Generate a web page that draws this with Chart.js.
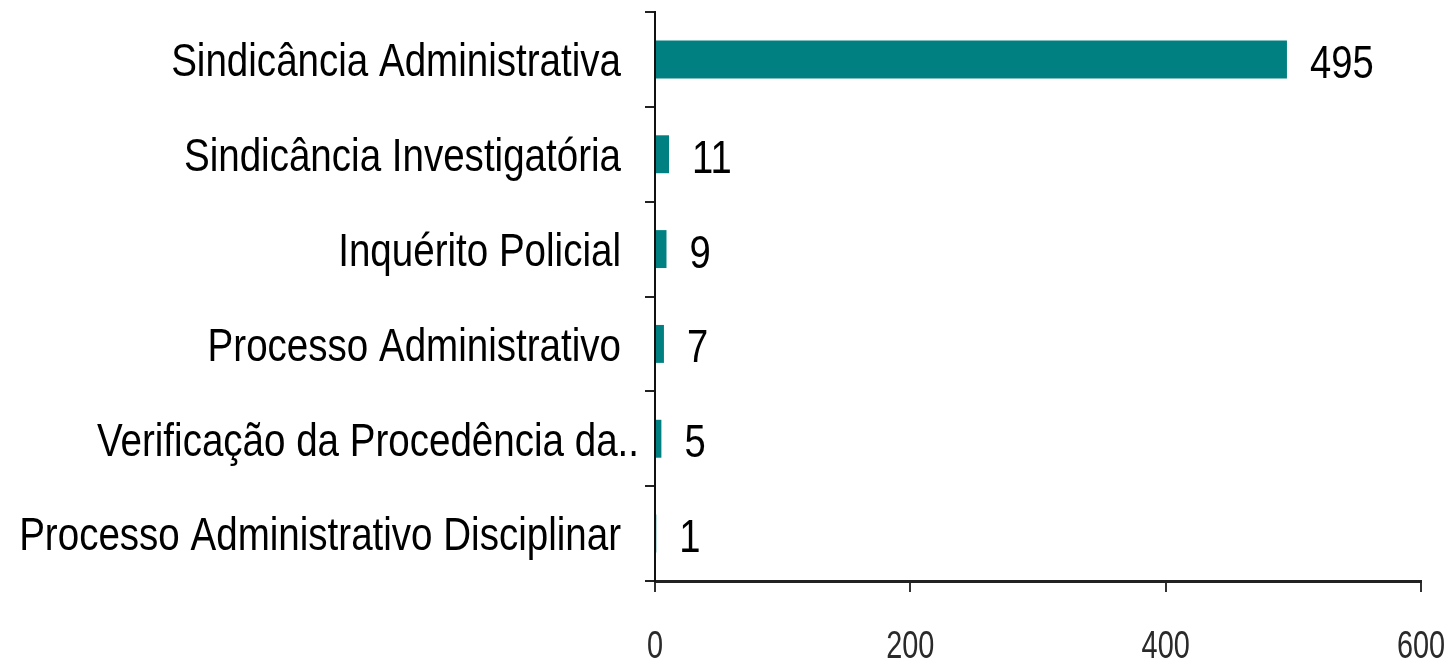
<!DOCTYPE html>
<html>
<head>
<meta charset="utf-8">
<script src="https://cdn.jsdelivr.net/npm/chart.js@4.4.1/dist/chart.umd.min.js"></script>
<style>
html,body{margin:0;padding:0;background:#fff;}
#wrap{width:1447px;height:661px;}
</style>
</head>
<body>
<div id="wrap"><canvas id="c" width="1447" height="661"></canvas></div>
<script>
const categories = [
  "Sindicância Administrativa",
  "Sindicância Investigatória",
  "Inquérito Policial",
  "Processo Administrativo",
  "Verificação da Procedência da..",
  "Processo Administrativo Disciplinar"
];
const values = [495, 11, 9, 7, 5, 1];
const xTicks = [0, 200, 400, 600];

const FONT = "'Liberation Sans', Arial, sans-serif";

// draw horizontally condensed text (the reference uses a narrow-looking font)
function drawNarrow(ctx, text, x, yCenter, size, sx, align, color) {
  ctx.save();
  ctx.font = size + "px " + FONT;
  ctx.fillStyle = color;
  ctx.textAlign = align;
  ctx.textBaseline = "alphabetic";
  ctx.translate(x, yCenter + size * 0.358);
  ctx.scale(sx, 1);
  ctx.fillText(text, 0, 0);
  ctx.restore();
}

const narrowLabels = {
  id: 'narrowLabels',
  afterDraw(chart) {
    const ctx = chart.ctx;
    const xs = chart.scales.x, ys = chart.scales.y;
    // category labels (truncated labels run a bit closer to the axis, as in the source)
    categories.forEach((c, i) => {
      const y = ys.getPixelForValue(i);
      const extra = c.endsWith('..') ? 18 : 0;
      drawNarrow(ctx, c, ys.right - 34 + extra, y, 47, 0.82, 'right', '#000');
    });
    // x tick labels
    xTicks.forEach(v => {
      const x = xs.getPixelForValue(v);
      drawNarrow(ctx, String(v), x, xs.top + 63, 39, 0.74, 'center', '#2a2a2a');
    });
    // value labels
    const meta = chart.getDatasetMeta(0);
    meta.data.forEach((el, i) => {
      drawNarrow(ctx, String(values[i]), el.x + 23, el.y + 2, 46, 0.83, 'left', '#000');
    });
  }
};

new Chart(document.getElementById('c'), {
  type: 'bar',
  data: {
    labels: categories,
    datasets: [{
      data: values,
      backgroundColor: '#008080',
      borderWidth: 0,
      barPercentage: 0.4,
      categoryPercentage: 1.0
    }]
  },
  options: {
    indexAxis: 'y',
    responsive: false,
    animation: false,
    devicePixelRatio: 1,
    layout: { autoPadding: false, padding: { top: 12, right: 26, left: 0, bottom: 0 } },
    plugins: { legend: { display: false }, tooltip: { enabled: false } },
    scales: {
      x: {
        min: 0, max: 600,
        afterBuildTicks(scale) { scale.ticks = xTicks.map(v => ({ value: v })); },
        afterFit(scale) { scale.height = 80; },
        grid: { drawOnChartArea: false, drawTicks: true, tickLength: 11, color: '#333', lineWidth: 2 },
        border: { display: true, color: '#222', width: 3 },
        ticks: { display: false }
      },
      y: {
        afterFit(scale) { scale.width = 655; },
        grid: { drawOnChartArea: false, drawTicks: true, tickLength: 10, color: '#222', lineWidth: 2, offset: true },
        border: { display: true, color: '#111', width: 2 },
        ticks: { display: false }
      }
    }
  },
  plugins: [narrowLabels]
});
</script>
</body>
</html>
